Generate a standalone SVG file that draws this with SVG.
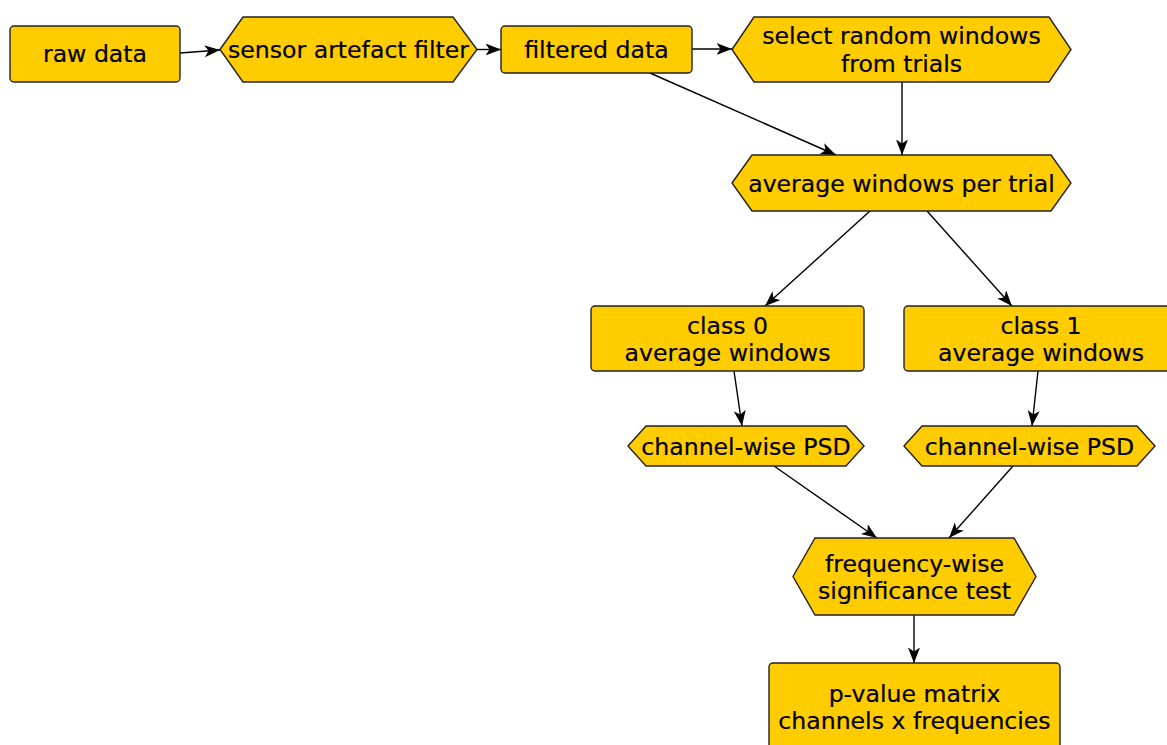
<svg xmlns="http://www.w3.org/2000/svg" width="1167" height="745" viewBox="0 0 1167 745">
  <style>
    .node rect, .node polygon { fill: #ffcc00; stroke: #222; stroke-width: 1.4; }
    .node text { font-family: "DejaVu Sans", sans-serif; font-size: 23.6px; fill: #000; text-anchor: middle; stroke: #000; stroke-width: 0.2; }
    .edges line { stroke: #000; stroke-width: 1.4; marker-end: url(#arrow); }
  </style>
  <defs>
    <marker id="arrow" markerUnits="userSpaceOnUse" markerWidth="17" markerHeight="14" refX="15.5" refY="6" orient="auto">
      <path d="M0,0 L15.5,6 L0,12 L4,6 z" fill="#000"/>
    </marker>
  </defs>
  <rect width="1167" height="745" fill="#fff"/>

  <g id="edges" class="edges">
    <line x1="180" y1="53" x2="220" y2="50"/>
    <line x1="477" y1="49.5" x2="501" y2="49.5"/>
    <line x1="692" y1="49" x2="732" y2="49"/>
    <line x1="650" y1="73" x2="836" y2="155"/>
    <line x1="902" y1="82" x2="902" y2="155"/>
    <line x1="870" y1="211" x2="765" y2="306"/>
    <line x1="927" y1="211" x2="1012" y2="306"/>
    <line x1="734" y1="371" x2="742" y2="426"/>
    <line x1="1038" y1="371" x2="1032" y2="426"/>
    <line x1="774" y1="466" x2="877" y2="538"/>
    <line x1="1013" y1="466" x2="949" y2="538"/>
    <line x1="914" y1="615" x2="914" y2="663"/>
  </g>

  <g id="raw-data" class="node">
    <rect x="10" y="26" width="170" height="56" rx="4"/>
    <text x="95" y="62">raw data</text>
  </g>
  <g id="sensor-artefact-filter" class="node">
    <polygon points="220,49.5 243,17 453,17 477,49.5 453,82 243,82"/>
    <text x="348.5" y="58">sensor artefact filter</text>
  </g>
  <g id="filtered-data" class="node">
    <rect x="501" y="26" width="191" height="47" rx="4"/>
    <text x="596.5" y="58">filtered data</text>
  </g>
  <g id="select-random-windows" class="node">
    <polygon points="732,49.5 754,17 1049,17 1071,49.5 1049,82 754,82"/>
    <text x="901.5" y="44">select random windows</text>
    <text x="901.5" y="72">from trials</text>
  </g>
  <g id="average-windows-per-trial" class="node">
    <polygon points="732,183 752,155 1051,155 1071,183 1051,211 752,211"/>
    <text x="901.5" y="191.5">average windows per trial</text>
  </g>
  <g id="class-0" class="node">
    <rect x="591" y="306" width="273" height="65" rx="4"/>
    <text x="727.5" y="334">class 0</text>
    <text x="727.5" y="361">average windows</text>
  </g>
  <g id="class-1" class="node">
    <rect x="904" y="306" width="274" height="65" rx="4"/>
    <text x="1041" y="334">class 1</text>
    <text x="1041" y="361">average windows</text>
  </g>
  <g id="psd-0" class="node">
    <polygon points="628,446 646,426 846,426 864,446 846,466 646,466"/>
    <text x="746" y="454.5">channel-wise PSD</text>
  </g>
  <g id="psd-1" class="node">
    <polygon points="904,446 922,426 1137,426 1155,446 1137,466 922,466"/>
    <text x="1029.5" y="454.5">channel-wise PSD</text>
  </g>
  <g id="significance-test" class="node">
    <polygon points="793,576.5 815,538 1014,538 1036,576.5 1014,615 815,615"/>
    <text x="914.5" y="572">frequency-wise</text>
    <text x="914.5" y="599">significance test</text>
  </g>
  <g id="p-value-matrix" class="node">
    <rect x="769" y="663" width="291" height="100" rx="4"/>
    <text x="914.5" y="702">p-value matrix</text>
    <text x="914.5" y="729">channels x frequencies</text>
  </g>
</svg>
